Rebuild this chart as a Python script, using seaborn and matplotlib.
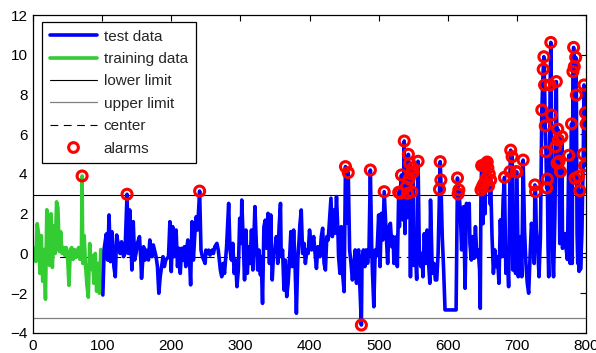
import numpy as np
import pandas as pd
import matplotlib
matplotlib.use("Agg")
import matplotlib.pyplot as plt
from matplotlib.lines import Line2D
import seaborn as sns

# ---------------- data ----------------
train_x = [0, 2, 4, 6, 8, 10, 12, 14, 16, 18, 20, 22, 24, 26, 28, 30, 32, 34, 36, 38,
           40, 42, 44, 46, 48, 50, 52, 54, 56, 58, 60, 62, 64, 66, 68, 70, 71, 72, 74, 76,
           78, 80, 82, 84, 86, 88, 90, 92, 94, 96, 98, 100]
train_y = [0.3, 0.0, -0.4, 1.5, 1.0, -1.0, 0.9, -1.4, 0.2, -2.3, 2.2, 0.0, -0.6, 2.0, -0.7, 1.4, 0.0, 2.6, 2.3, 0.1,
           1.1, 0.0, 0.3, -0.1, 0.3, -0.2, -1.6, 0.2, 0.3, -0.3, 0.2, -0.2, 0.1, 0.3, -0.3, 0.2, 3.9, -0.5, 0.9, -0.6,
           -1.6, -2.2, 0.5, -0.8, -0.1, -1.5, 0.0, -1.9, -0.5, -2.0, 0.2, -1.5]

test_x = [101, 103, 106, 108, 110, 112, 114, 117, 119, 121, 123, 126, 128, 131, 133, 136, 138, 140, 143, 145,
          147, 149, 151, 154, 156, 157, 160, 162, 164, 167, 169, 172, 174, 178, 180, 182, 184, 186, 188, 190,
          192, 196, 198, 200, 202, 204, 207, 209, 211, 213, 215, 217, 219, 221, 222, 224, 226, 228, 230, 232,
          234, 236, 238, 241, 243, 245, 247, 249, 250, 252, 254, 256, 259, 261, 263, 266, 268, 271, 273, 275,
          277, 280, 283, 285, 287, 289, 291, 293, 295, 297, 299, 301, 302, 306, 308, 310, 312, 314, 316, 318,
          321, 323, 325, 327, 329, 330, 332, 334, 336, 338, 340, 342, 344, 346, 348, 350, 352, 354, 356, 358,
          359, 361, 363, 365, 367, 369, 371, 373, 375, 377, 379, 381, 383, 385, 386, 388, 390, 392, 394, 396,
          398, 400, 403, 406, 408, 410, 412, 414, 415, 417, 419, 421, 423, 425, 427, 429, 431, 433, 435, 437,
          439, 441, 442, 444, 446, 448, 450, 452, 454, 456, 458, 460, 462, 464, 466, 468, 469, 471, 473, 475,
          476, 478, 480, 482, 484, 486, 488, 490, 491, 493, 495, 496, 498, 500, 502, 504, 506, 508, 511, 513,
          515, 517, 519, 521, 522, 524, 526, 527, 529, 530, 531, 533, 535, 537, 538, 539, 540, 541, 542, 543,
          544, 545, 546, 547, 548, 549, 550, 551, 553, 555, 557, 559, 561, 563, 564, 566, 568, 570, 572, 574,
          575, 577, 578, 580, 582, 584, 586, 588, 589, 590, 592, 594, 596, 600, 605, 610, 612, 614, 615, 616,
          618, 620, 623, 625, 627, 629, 631, 632, 634, 636, 638, 640, 642, 644, 646, 647, 648, 649, 650, 651,
          652, 653, 654, 655, 656, 657, 658, 659, 660, 661, 662, 664, 666, 668, 670, 672, 674, 676, 678, 680,
          682, 684, 686, 688, 690, 691, 692, 693, 694, 696, 698, 699, 700, 702, 705, 707, 709, 711, 713, 715,
          717, 719, 721, 723, 725, 726, 727, 728, 730, 732, 734, 736, 738, 739, 740, 741, 742, 743, 744, 745,
          746, 748, 749, 750, 751, 752, 753, 755, 756, 757, 758, 759, 760, 761, 762, 763, 764, 765, 766, 767,
          769, 771, 773, 775, 777, 779, 780, 781, 782, 783, 784, 785, 786, 787, 788, 789, 790, 791, 792, 794,
          796, 797, 798, 799, 800]
test_y = [-2.09, 0.26, 0.98, -0.33, 1.94, -0.41, 1.10, -0.66, -1.17, 0.93, 0.51, 0.0, 0.59, -0.16, 0.0, 2.98, 0.0, 2.19, -0.83, 1.6,
          -0.33, 0.0, 0.51, 0.85, -0.33, -1.25, 0.34, -0.33, 0.17, -0.33, 0.68, -0.16, 0.43, -0.16, -0.66, -2.0, -1.17, -0.66, -0.16, -0.66,
          -0.33, -0.16, 1.6, -0.91, 1.35, -0.16, 1.18, -0.66, 0.26, -1.0, 0.26, -0.33, 0.34, -0.66, 0.17, 0.68, 0.0, -1.58, 1.6, -0.33,
          0.93, 1.85, 1.18, 3.14, 0.17, -0.16, -0.33, -0.5, 0.17, 0.0, 0.17, -0.08, 0.17, 0.0, 0.34, 0.51, 0.17, -0.83, -1.17, -0.5,
          -1.0, 0.34, 2.52, 0.17, -0.33, 0.51, -1.0, -0.33, -1.67, -0.83, 1.77, 0.51, 2.69, -1.33, 1.18, -1.0, 0.34, -0.5, 1.18, -0.83,
          2.36, 0.51, -0.83, 0.17, -1.08, -0.16, -2.51, 1.35, 1.68, 0.26, 2.02, -0.5, 1.94, -1.33, 0.0, 0.17, 0.85, -0.5, 1.35, 2.52,
          -0.16, 0.17, -1.84, -0.33, -2.17, -1.5, -0.33, 1.1, -0.66, 1.18, -0.5, -3.01, -0.33, 0.76, 1.43, 2.19, 0.0, 0.51, -0.5, 0.17,
          0.0, 1.18, 0.18, 0.85, 0.01, -0.75, 0.34, 0.01, -0.16, 0.85, 1.27, -0.49, -0.83, 0.85, 0.68, 1.69, 2.78, 0.85, 2.19, 1.02,
          2.86, 1.18, -0.16, -1.0, 1.35, -1.08, -1.92, 4.37, 1.52, 4.07, 0.18, -0.49, -1.33, -0.66, 0.18, -1.5, -0.33, 0.18, -1.84, -3.6,
          -0.16, 0.18, -0.66, 0.18, -0.49, 0.18, 4.2, 0.18, -0.91, -2.68, 0.18, -0.16, 0.34, 1.94, -0.66, 2.02, 0.68, 3.11, 1.0, -0.5,
          1.35, 1.52, 0.34, 0.85, -0.5, 0.34, 0.85, -0.66, 3.08, 1.35, 3.03, 3.95, 1.69, 5.66, 1.0, 2.5, 3.36, 1.8, 3.03, 4.99,
          3.75, 4.54, -1.17, 4.0, 3.1, 4.3, 4.1, -0.6, 0.3, -1.3, 4.64, -0.33, -0.66, 0.01, -1.17, 1.0, -0.5, 1.18, -0.33, -1.5,
          2.69, -0.16, -1.0, -0.5, -1.33, -1.33, 0.01, 3.23, 4.62, 3.7, 0.85, -0.83, -2.84, -2.84, -2.84, -2.84, -2.84, 3.8, 3.0, 3.2,
          2.19, 0.18, 2.36, -1.75, 2.52, 2.19, 2.52, 0.51, -0.33, 0.85, -0.24, 1.35, -0.16, 0.18, -0.83, -2.76, 3.2, 4.42, 3.36, 1.5,
          3.5, 4.4, 2.0, 4.5, 3.8, 4.6, 4.3, 3.4, 4.0, 2.5, 3.7, 0.85, -1.0, 0.18, -0.66, -0.16, -1.5, 1.69, -0.16, 2.69,
          3.83, -1.0, 0.18, -1.67, 4.12, 5.2, 1.0, 4.87, -0.83, 1.0, -1.0, 4.12, 4.1, -1.17, 0.85, -1.17, 4.7, 1.18, -0.5, -1.5,
          -2.0, -0.16, 1.52, 1.0, -0.5, 3.45, 3.11, 1.18, 0.34, -1.17, 0.85, 7.22, 9.27, 9.9, 8.48, 6.42, 5.12, 3.3, 3.75, 0.34,
          -1.17, 8.48, 10.62, 6.97, 1.0, -0.5, -1.17, 2.0, 5.37, 8.65, 4.54, 6.26, 5.71, 4.64, 0.5, 4.12, 1.5, 5.88, 0.26, 1.0,
          1.0, 0.3, -0.3, 4.94, -0.5, 6.52, -0.5, 9.15, 10.37, 9.4, 3.78, 9.87, 7.97, 1.0, -0.5, 3.87, -0.9, 3.16, -0.8, 1.0,
          5.0, 8.48, 4.42, 7.08, 6.52]

upper_limit = 2.95
lower_limit = -3.24
center_line = -0.17

legend_labels = ["test data", "training data", "lower limit", "upper limit", "center", "alarms"]
x_ticks = [0, 100, 200, 300, 400, 500, 600, 700, 800]
y_ticks = [-4, -2, 0, 2, 4, 6, 8, 10, 12]

# ---------------- styling ----------------
sns.set_style("white")
plt.rcParams["font.family"] = ["Liberation Sans", "DejaVu Sans"]

BLUE = "#0000ff"
GREEN = "#33cc33"
RED = "#ff0000"

train_df = pd.DataFrame({"x": train_x, "y": train_y})
test_df = pd.DataFrame({"x": test_x, "y": test_y})
all_df = pd.concat([train_df, test_df], ignore_index=True)
alarm_df = all_df[(all_df["y"] > upper_limit) | (all_df["y"] < lower_limit)]

fig = plt.figure(figsize=(5.96, 3.53), dpi=100)
ax = fig.add_axes([0.0554, 0.0567, 0.9279, 0.9008])

ax.axhline(upper_limit, color="black", lw=0.8, zorder=1)
ax.axhline(lower_limit, color="#808080", lw=0.9, zorder=1)
ax.axhline(center_line, color="black", lw=0.8, ls=(0, (7, 5)), zorder=1)

sns.lineplot(data=train_df, x="x", y="y", color=GREEN, lw=2.6, ax=ax, sort=False, zorder=2)
sns.lineplot(data=test_df, x="x", y="y", color=BLUE, lw=2.6, ax=ax, sort=False, zorder=2)
sns.scatterplot(data=alarm_df, x="x", y="y", ax=ax, marker="o", s=52,
                facecolors="none", edgecolors=RED, linewidths=2.2, zorder=3)

ax.set_xlim(0, 800)
ax.set_ylim(-4, 12)
ax.set_xticks(x_ticks)
ax.set_yticks(y_ticks)
ax.set_xlabel("")
ax.set_ylabel("")
ax.tick_params(direction="in", top=True, right=True, length=4, width=0.8,
               labelsize=11, colors="black", pad=4)
for sp in ax.spines.values():
    sp.set_color("black")
    sp.set_linewidth(0.9)

handles = [
    Line2D([], [], color=BLUE, lw=2.6),
    Line2D([], [], color=GREEN, lw=2.6),
    Line2D([], [], color="black", lw=0.8),
    Line2D([], [], color="#808080", lw=0.9),
    Line2D([], [], color="black", lw=0.8, ls=(0, (7, 5))),
    Line2D([], [], ls="none", marker="o", markersize=7, markerfacecolor="none",
           markeredgecolor=RED, markeredgewidth=2.2),
]
leg = ax.legend(handles, legend_labels, loc="upper left", bbox_to_anchor=(0.016, 0.978),
                borderaxespad=0, fontsize=11, frameon=True, fancybox=False,
                edgecolor="black", framealpha=1, handlelength=3.1, handletextpad=0.45,
                labelspacing=0.55, borderpad=0.5)
leg.get_frame().set_linewidth(0.9)

fig.savefig("out.png", dpi=100)
